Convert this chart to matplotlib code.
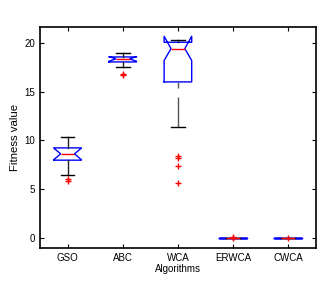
import matplotlib
matplotlib.use('Agg')
import matplotlib.pyplot as plt

algorithms = ['GSO', 'ABC', 'WCA', 'ERWCA', 'CWCA']
# box statistics
q1 = [7.97, 18.05, 16.0, 0.0, 0.0]
med = [8.62, 18.36, 19.42, 0.0, 0.0]
q3 = [9.23, 18.56, 20.07, 0.0, 0.0]
whislo = [6.46, 17.5, 11.35, 0.0, 0.0]
whishi = [10.36, 18.97, 20.34, 0.0, 0.0]
cilo = [8.02, 18.12, 18.19, 0.0, 0.0]
cihi = [9.2, 18.6, 20.68, 0.0, 0.0]
fliers = [[5.8, 6.0], [16.85, 16.75], [8.38, 8.17, 7.42, 5.64], [0.0, 0.05], [0.0]]

stats = []
for i in range(len(algorithms)):
    stats.append({'label': algorithms[i], 'q1': q1[i], 'med': med[i], 'q3': q3[i],
                  'whislo': whislo[i], 'whishi': whishi[i], 'cilo': cilo[i],
                  'cihi': cihi[i], 'fliers': fliers[i]})

plt.rcParams['font.family'] = ['Liberation Sans', 'DejaVu Sans']
fig = plt.figure(figsize=(3.36, 2.93), dpi=100)
ax = fig.add_axes([0.119, 0.154, 0.821, 0.754])

bp = ax.bxp(stats, widths=0.5, shownotches=True,
            boxprops=dict(color='blue', linewidth=1.0),
            medianprops=dict(color='red', linewidth=1.0),
            whiskerprops=dict(color='#222222', linewidth=1.0),
            capprops=dict(color='black', linewidth=1.0),
            flierprops=dict(marker='+', markeredgecolor='red', markersize=5,
                            markeredgewidth=1.0, linestyle='none'))
# long WCA lower whisker has a visible gap in the original
bp['whiskers'][4].set_linestyle((0, (4.3, 6.5, 40, 10)))
bp['whiskers'][4].set_color('#555555')

ax.set_xlim(0.5, 5.5)
ax.set_ylim(-1.03, 21.64)
ax.set_yticks([0, 5, 10, 15, 20])
ax.tick_params(direction='in', top=True, right=True, labelsize=7, length=3, width=0.8)
for s in ax.spines.values():
    s.set_linewidth(1.2)
ax.set_xlabel('Algorithms', fontsize=7, labelpad=1)
ax.set_ylabel('Fitness value', fontsize=8.2, labelpad=3)

fig.savefig('out.png', dpi=100)
